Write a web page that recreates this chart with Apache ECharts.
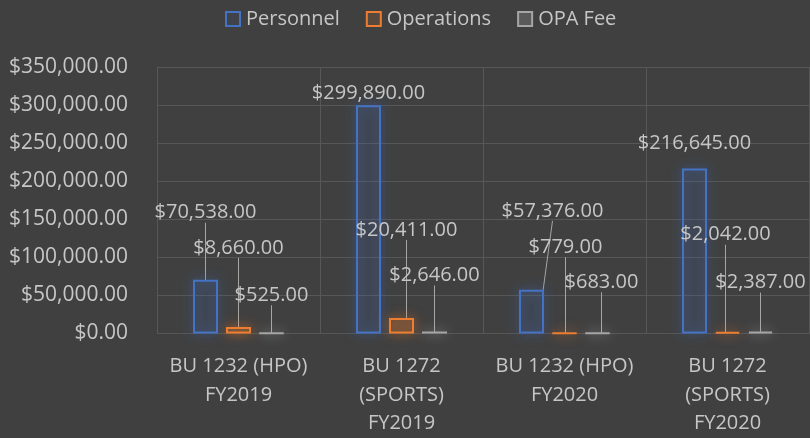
<!DOCTYPE html>
<html>
<head>
<meta charset="utf-8">
<script src="https://cdn.jsdelivr.net/npm/echarts@6/dist/echarts.min.js"></script>
<style>
html,body{margin:0;padding:0;background:#404040;}
#chart{width:810px;height:438px;}
</style>
</head>
<body>
<div id="chart"></div>
<script>
// ---- data ----
const categories = [
  'BU 1232 (HPO)\nFY2019',
  'BU 1272\n(SPORTS)\nFY2019',
  'BU 1232 (HPO)\nFY2020',
  'BU 1272\n(SPORTS)\nFY2020'
];
const seriesNames = ['Personnel', 'Operations', 'OPA Fee'];
const personnel = [70538, 299890, 57376, 216645];
const operations = [8660, 20411, 779, 2042];
const opaFee = [525, 2646, 683, 2387];
const yTicks = { min: 0, max: 350000, interval: 50000 };

// ---- label placement (styling only: offsets of moved data labels) ----
const labelOffsets = [
  [[0, -52], [0, 3], [21, -64], [0, -10]],
  [[0, -64], [5, -73], [1, -70], [-2, -82]],
  [[0, -22], [0, -41], [4, -35], [0, -34]]
];
const hideLine = [[false, true, false, true], [false, false, false, false], [false, false, false, false]];

const colors = ['#4472C4', '#ED7D31', '#A5A5A5'];
const fills = ['rgba(68,114,196,0.08)', 'rgba(237,125,49,0.14)', 'rgba(165,165,165,0.25)'];
const glows = ['rgba(68,114,196,0.9)', 'rgba(237,125,49,0.9)', 'rgba(190,190,190,0.8)'];
const textColor = '#c6c6c6';
const fontFam = '"Open Sans", "Noto Sans", sans-serif';

function money(v) {
  return '$' + Number(v).toLocaleString('en-US', { minimumFractionDigits: 2, maximumFractionDigits: 2 });
}

const allValues = [personnel, operations, opaFee];

const series = allValues.map(function (vals, si) {
  return {
    name: seriesNames[si],
    type: 'bar',
    barWidth: 25,
    barGap: '32%',
    data: vals.map(function (v, di) {
      return { value: v, labelLine: { show: !hideLine[si][di] } };
    }),
    itemStyle: {
      color: fills[si],
      borderColor: colors[si],
      borderWidth: 2,
      shadowBlur: 12,
      shadowColor: glows[si]
    },
    label: {
      show: true,
      position: 'top',
      distance: 5,
      color: textColor,
      fontFamily: fontFam,
      fontSize: 20,
      formatter: function (p) { return money(p.value); }
    },
    labelLine: {
      show: true,
      lineStyle: { color: '#a6a6a6', width: 1 }
    },
    labelLayout: function (params) {
      const off = labelOffsets[params.seriesIndex][params.dataIndex];
      return { dx: off[0], dy: off[1] };
    }
  };
});

const chart = echarts.init(document.getElementById('chart'), null, { renderer: 'canvas' });
chart.setOption({
  backgroundColor: '#404040',
  animation: false,
  legend: {
    top: 4,
    left: 220,
    itemWidth: 14,
    itemHeight: 14,
    itemGap: 26,
    icon: 'rect',
    textStyle: { color: textColor, fontFamily: fontFam, fontSize: 20, padding: [0, 0, 0, 1] },
    data: seriesNames
  },
  grid: { left: 157, right: 1, top: 67, bottom: 104, containLabel: false },
  xAxis: {
    type: 'category',
    data: categories,
    axisLine: { show: false },
    axisTick: { show: false },
    splitLine: { show: true, lineStyle: { color: '#575757', width: 1 } },
    axisLabel: {
      color: textColor,
      fontFamily: fontFam,
      fontSize: 20,
      lineHeight: 28.5,
      margin: 19,
      interval: 0
    }
  },
  yAxis: {
    type: 'value',
    min: yTicks.min,
    max: yTicks.max,
    interval: yTicks.interval,
    axisLine: { show: false },
    axisTick: { show: false },
    splitLine: { show: true, lineStyle: { color: '#575757', width: 1 } },
    axisLabel: {
      color: textColor,
      fontFamily: fontFam,
      fontSize: 21,
      margin: 29,
      formatter: money
    }
  },
  series: series
});
</script>
</body>
</html>
